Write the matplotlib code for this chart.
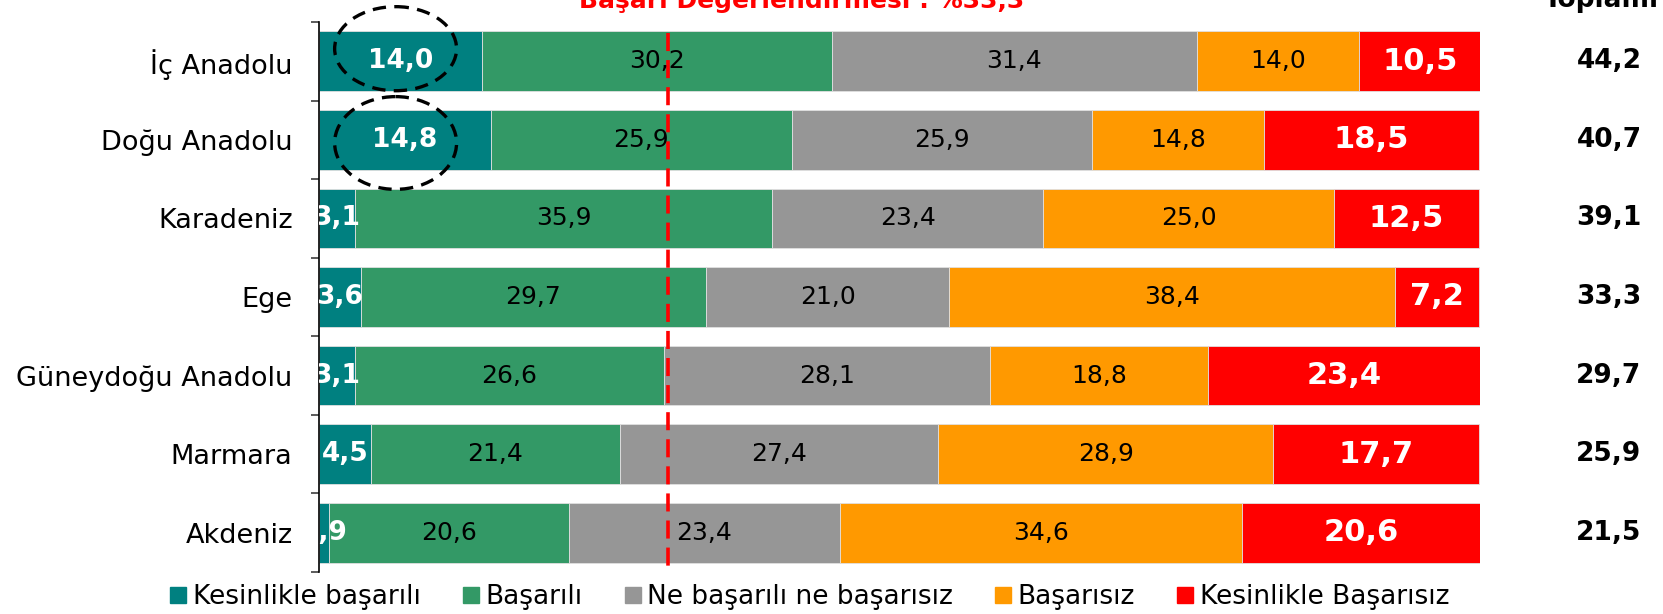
import matplotlib
matplotlib.use("Agg")
import matplotlib.pyplot as plt
import numpy as np
from matplotlib.lines import Line2D
from matplotlib.patches import Ellipse

regions = ["İç Anadolu", "Doğu Anadolu", "Karadeniz", "Ege",
           "Güneydoğu Anadolu", "Marmara", "Akdeniz"]
kesinlikle_basarili = [14.0, 14.8, 3.1, 3.6, 3.1, 4.5, 0.9]
basarili = [30.2, 25.9, 35.9, 29.7, 26.6, 21.4, 20.6]
ne_ne = [31.4, 25.9, 23.4, 21.0, 28.1, 27.4, 23.4]
basarisiz = [14.0, 14.8, 25.0, 38.4, 18.8, 28.9, 34.6]
kesinlikle_basarisiz = [10.5, 18.5, 12.5, 7.2, 23.4, 17.7, 20.6]
toplam = [44.2, 40.7, 39.1, 33.3, 29.7, 25.9, 21.5]
ortalama_cizgi = 30.1

series = [kesinlikle_basarili, basarili, ne_ne, basarisiz, kesinlikle_basarisiz]
names = ["Kesinlikle başarılı", "Başarılı", "Ne başarılı ne başarısız",
         "Başarısız", "Kesinlikle Başarısız"]
colors = ["#008080", "#339966", "#969696", "#FF9900", "#FF0000"]

fig = plt.figure(figsize=(16.63, 6.14), dpi=100)
ax = fig.add_axes([0.1918, 0.0684, 0.6982, 0.8958])

y = np.arange(len(regions))
left = np.zeros(len(regions))
for i, (vals, col) in enumerate(zip(series, colors)):
    vals = np.array(vals)
    ax.barh(y, vals, left=left, height=0.76, color=col,
            edgecolor="#e0e0e0", linewidth=0.6, zorder=2)
    for yi, l, v in zip(y, left, vals):
        txt = f"{v:.1f}".replace(".", ",")
        if i == 0:
            ax.text(l + v / 2, yi, txt, ha="center", va="center", color="white",
                    fontsize=19, fontweight="bold", clip_on=True, zorder=4)
        elif i == 4:
            ax.text(l + v / 2, yi, txt, ha="center", va="center", color="white",
                    fontsize=22, fontweight="bold", clip_on=True, zorder=4)
        else:
            ax.text(l + v / 2, yi, txt, ha="center", va="center", color="black",
                    fontsize=18, clip_on=True, zorder=4)
    left += vals

# dashed average line
ax.plot([ortalama_cizgi, ortalama_cizgi], [-0.36, 6.42], color="#FF0000",
        linestyle=(0, (5, 2.5)), linewidth=2.6, zorder=3, clip_on=False)

# circled values
ax.add_patch(Ellipse((6.6, -0.16), 10.5, 1.07, fill=False, edgecolor="black",
                     linestyle=(0, (4, 2.5)), linewidth=2.4, clip_on=False, zorder=5))
ax.add_patch(Ellipse((6.6, 1.04), 10.5, 1.18, fill=False, edgecolor="black",
                     linestyle=(0, (4, 2.5)), linewidth=2.4, clip_on=False, zorder=5))

# totals column
for yi, t in zip(y, toplam):
    ax.text(111.1, yi, f"{t:.1f}".replace(".", ","), ha="center", va="center",
            fontsize=19, fontweight="bold", clip_on=False)
fig.text(0.963, 1.0, "Toplamı", ha="center", va="center",
         fontsize=19, fontweight="bold")
fig.text(0.482, 0.999, "Başarı Değerlendirmesi : %33,3", ha="center",
         va="center", fontsize=18, fontweight="bold", color="#FF0000")

ax.set_xlim(0, 100)
ax.set_ylim(6.5, -0.5)
ax.set_xticks([])
ax.set_yticks(y)
ax.set_yticklabels(regions, fontsize=19.5)
ax.set_yticks(np.arange(-0.5, 7.0, 1.0), minor=True)
ax.tick_params(axis="y", which="major", length=0, pad=19)
ax.tick_params(axis="y", which="minor", length=6, width=1.2, color="#404040")
for s in ["top", "right", "bottom"]:
    ax.spines[s].set_visible(False)
ax.spines["left"].set_linewidth(1.2)

handles = [Line2D([], [], marker="s", linestyle="none", markersize=11,
                  color=c) for c in colors]
fig.legend(handles, names, loc="center", bbox_to_anchor=(0.487, 0.028),
           ncol=5, frameon=False, fontsize=19, handlelength=0.6,
           handletextpad=0.25, columnspacing=1.6, borderpad=0)

fig.savefig("out.png", dpi=100)
